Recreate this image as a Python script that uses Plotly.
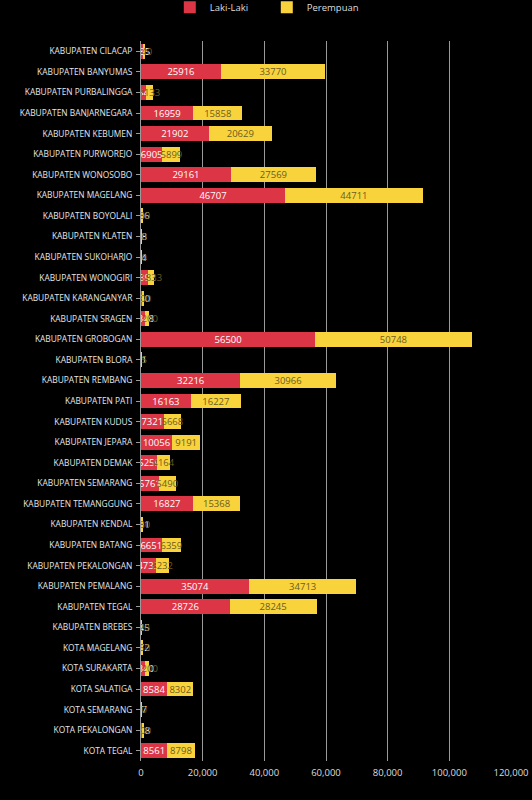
import plotly.graph_objects as go

# jumlah penduduk per kabupaten/kota (laki-laki vs perempuan)
wilayah = ['KABUPATEN CILACAP', 'KABUPATEN BANYUMAS', 'KABUPATEN PURBALINGGA', 'KABUPATEN BANJARNEGARA',
           'KABUPATEN KEBUMEN', 'KABUPATEN PURWOREJO', 'KABUPATEN WONOSOBO', 'KABUPATEN MAGELANG',
           'KABUPATEN BOYOLALI', 'KABUPATEN KLATEN', 'KABUPATEN SUKOHARJO', 'KABUPATEN WONOGIRI',
           'KABUPATEN KARANGANYAR', 'KABUPATEN SRAGEN', 'KABUPATEN GROBOGAN', 'KABUPATEN BLORA',
           'KABUPATEN REMBANG', 'KABUPATEN PATI', 'KABUPATEN KUDUS', 'KABUPATEN JEPARA',
           'KABUPATEN DEMAK', 'KABUPATEN SEMARANG', 'KABUPATEN TEMANGGUNG', 'KABUPATEN KENDAL',
           'KABUPATEN BATANG', 'KABUPATEN PEKALONGAN', 'KABUPATEN PEMALANG', 'KABUPATEN TEGAL',
           'KABUPATEN BREBES', 'KOTA MAGELANG', 'KOTA SURAKARTA', 'KOTA SALATIGA',
           'KOTA SEMARANG', 'KOTA PEKALONGAN', 'KOTA TEGAL']

laki_laki = [685, 25916, 1643, 16959, 21902, 6905, 29161, 46707,
             206, 48, 64, 2392, 360, 1348, 56500, 31,
             32216, 16163, 7321, 10056, 5259, 5761, 16827, 201,
             6651, 4733, 35074, 28726, 145, 272, 1340, 8584,
             87, 448, 8561]

perempuan = [540, 33770, 2133, 15858, 20629, 5899, 27569, 44711,
             180, 40, 50, 1833, 300, 1200, 50748, 25,
             30966, 16227, 5668, 9191, 4164, 5490, 15368, 180,
             6359, 4232, 34713, 28245, 120, 250, 1200, 8302,
             70, 400, 8798]

x_ticks = [0, 20000, 40000, 60000, 80000, 100000, 120000]

MERAH = '#dc3545'
KUNING = '#f9d33c'

fig = go.Figure()
fig.add_trace(go.Bar(y=wilayah, x=laki_laki, name='Laki-Laki', orientation='h',
                     marker=dict(color=MERAH, line=dict(width=0)),
                     text=laki_laki, textposition='inside', insidetextanchor='middle',
                     constraintext='none', textangle=0,
                     textfont=dict(color='white', size=9.5, family='Open Sans')))
fig.add_trace(go.Bar(y=wilayah, x=perempuan, name='Perempuan', orientation='h',
                     marker=dict(color=KUNING, line=dict(width=0)),
                     text=perempuan, textposition='inside', insidetextanchor='middle',
                     constraintext='none', textangle=0,
                     textfont=dict(color='#6b5c22', size=9.5, family='Open Sans')))

fig.update_layout(
    barmode='stack', bargap=0.28,
    width=532, height=800,
    paper_bgcolor='black', plot_bgcolor='black',
    margin=dict(l=141, r=21, t=41, b=39, autoexpand=False),
    font=dict(family='Open Sans', color='#dddddd', size=9),
    legend=dict(orientation='h', x=0.34, xanchor='center', y=1.047, yanchor='middle',
                font=dict(size=9.5, color='#dddddd'),
                itemwidth=30, entrywidth=52, traceorder='normal'),
    showlegend=True,
)

fig.update_xaxes(range=[0, 120000], tickvals=x_ticks, tickformat=',', showgrid=True,
                 gridcolor='#9a9a9a', gridwidth=1, zeroline=False, showline=False,
                 tickfont=dict(size=9.5, color='#dddddd'), ticks='', ticklabelstandoff=4,
                 automargin=False)
fig.update_yaxes(autorange='reversed', showgrid=False, showline=True, linecolor='#9a9a9a',
                 ticks='outside', ticklen=4, tickcolor='#9a9a9a',
                 tickfont=dict(size=8.4, color='#e6e6e6'), ticklabelstandoff=2,
                 automargin=False)

# the page's default body margin would shift the chart by 8px
fig.write_html("out.html", config={'displayModeBar': False},
               post_script="document.body.style.margin='0';")
